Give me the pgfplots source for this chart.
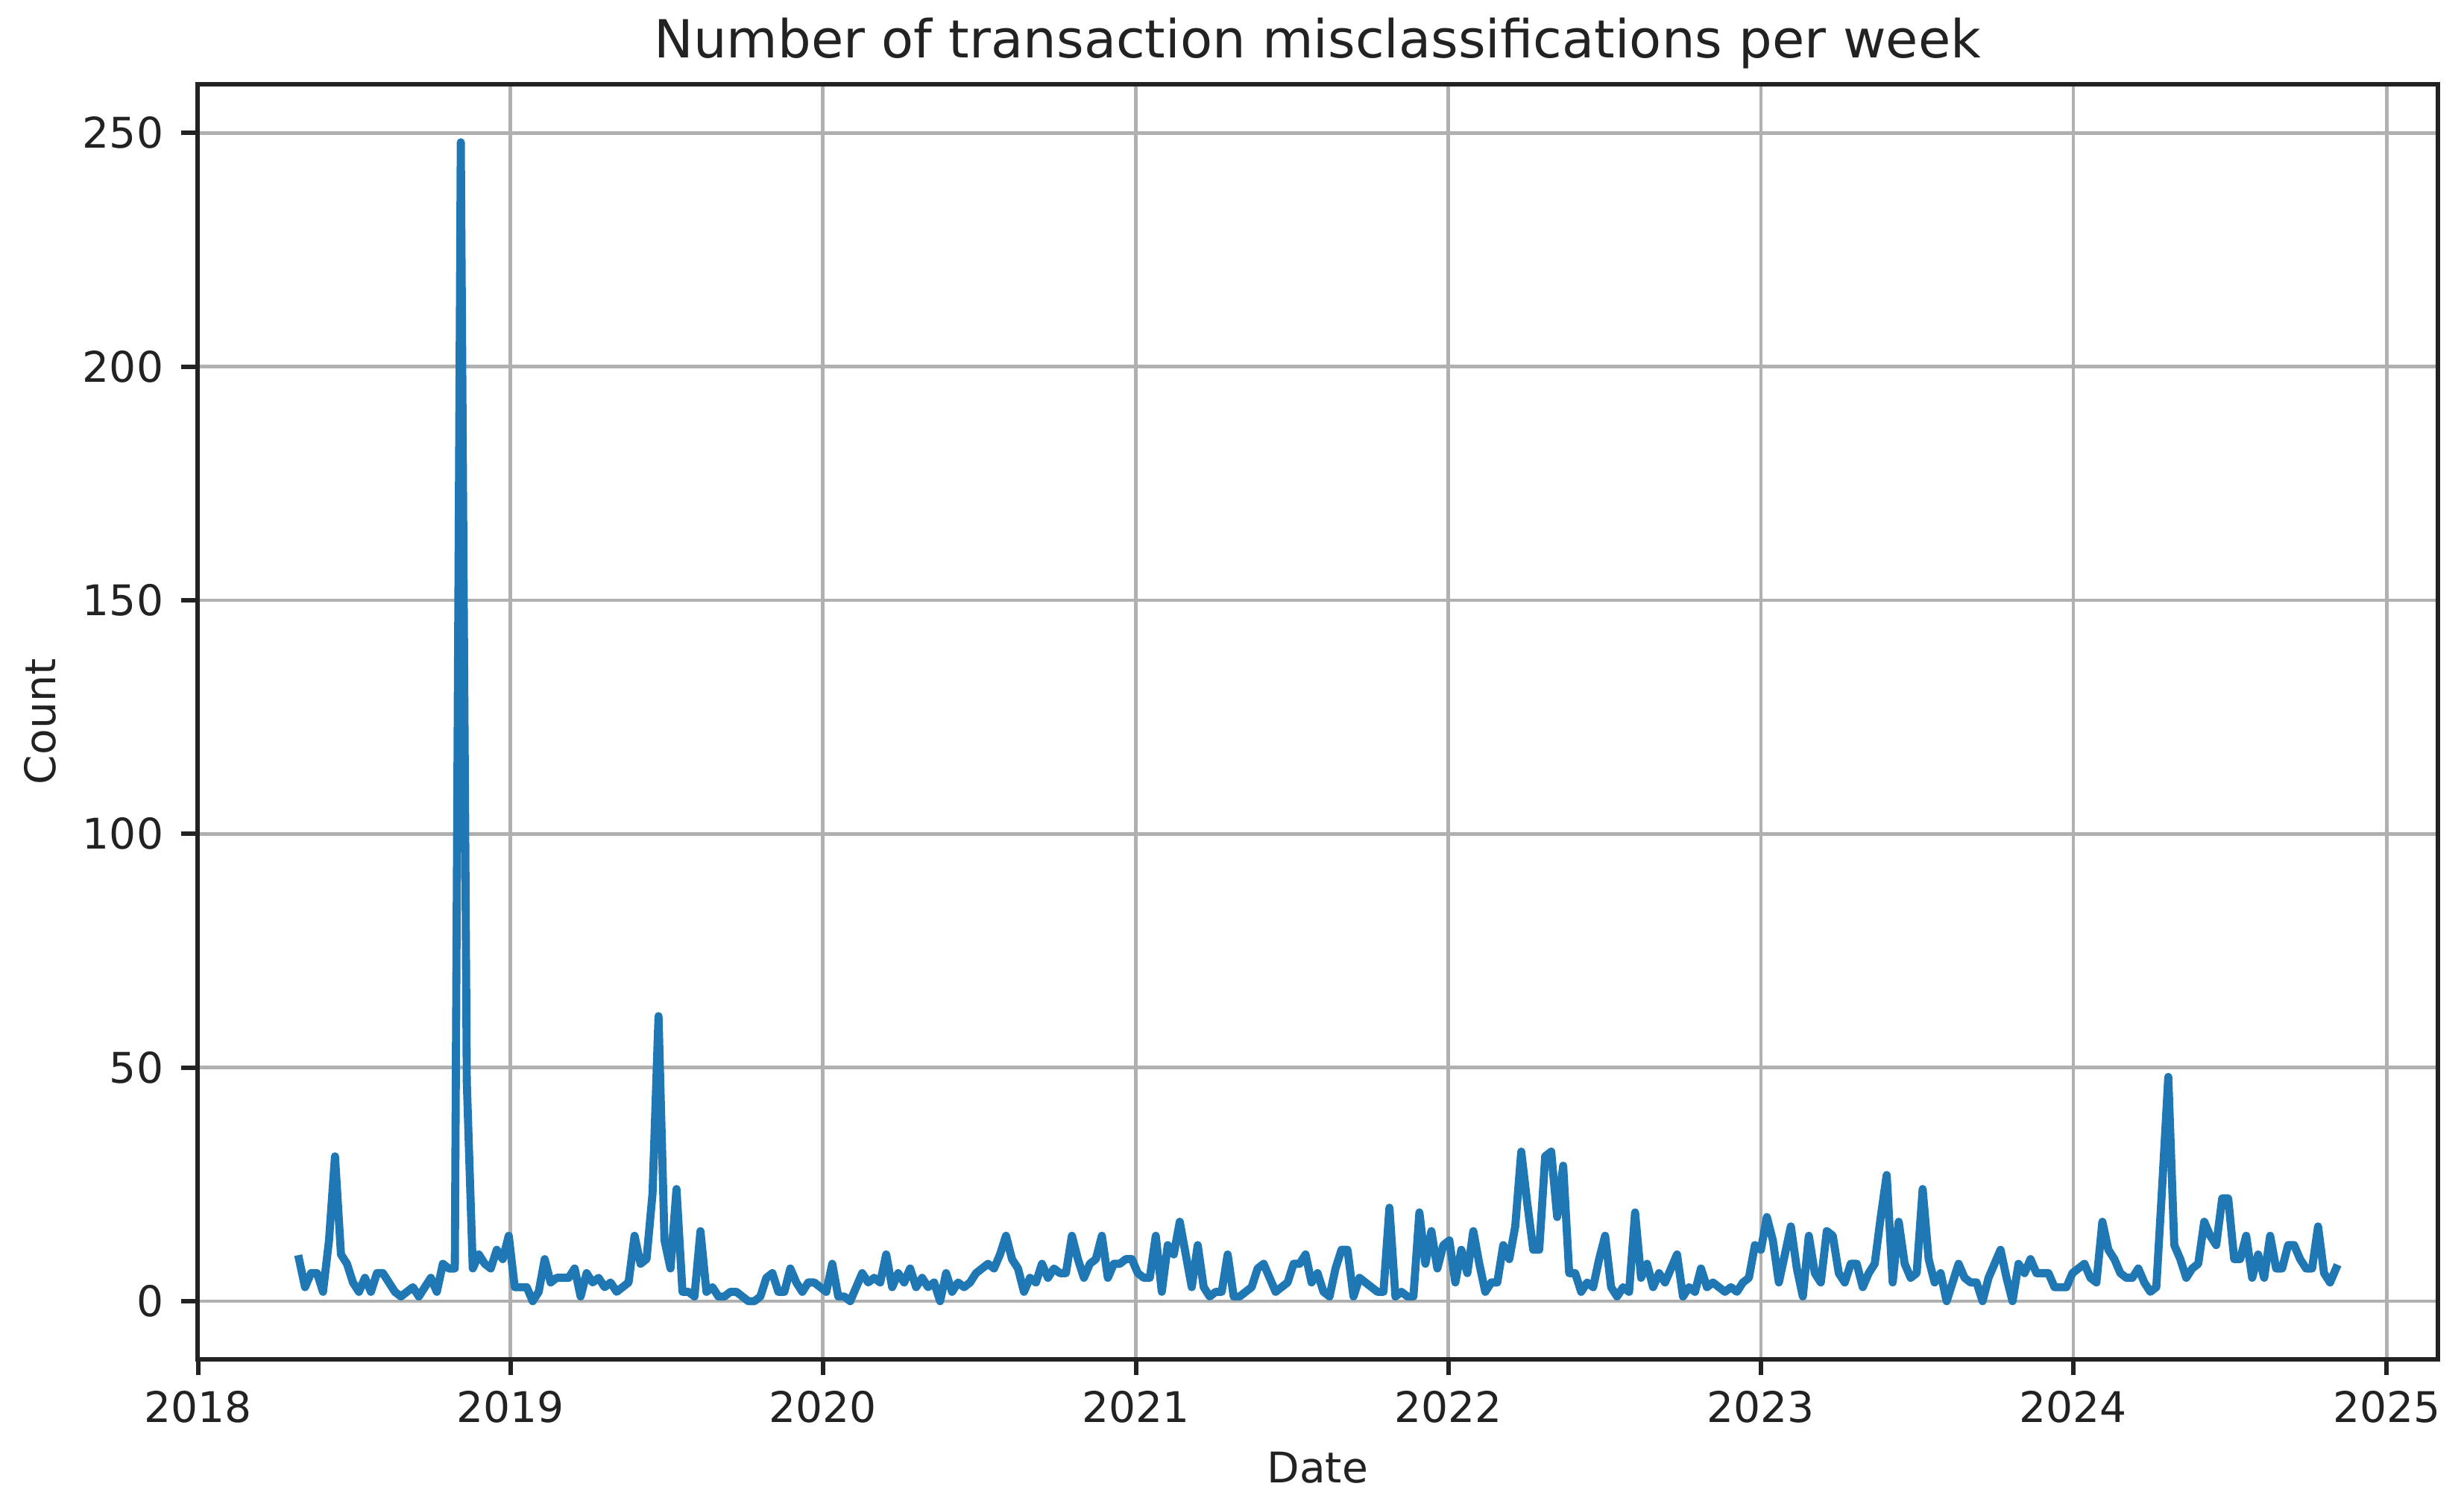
\documentclass[border=0pt]{standalone}
\usepackage{fontspec}
\setmainfont{DejaVu Sans}
\usepackage{pgfplots}
\pgfplotsset{compat=1.18}
\definecolor{mplblue}{HTML}{1F77B4}
\definecolor{gridgray}{HTML}{B0B0B0}
\definecolor{ink}{HTML}{222222}
\begin{document}
\begin{tikzpicture}[x=1bp,y=1bp]
\useasboundingbox (0,0) rectangle (793.2,485.04);
\begin{axis}[
  at={(63.48bp,47.59bp)}, anchor=south west,
  scale only axis, width=721.3bp, height=410.3bp,
  xmin=-17, xmax=357, ymin=-12.4, ymax=260.4,
  xtick={-16.857,35.286,87.429,139.714,191.857,244,296.143,348.429},
  xticklabels={2018,2019,2020,2021,2022,2023,2024,2025},
  ytick={0,50,100,150,200,250},
  /pgf/number format/assume math mode=true,
  xtick pos=bottom, ytick pos=left,
  tick align=outside,
  major tick length=5.2bp,
  tick style={line width=1.44bp, color=ink},
  axis line style={line width=1.44bp, color=ink},
  grid=major,
  major grid style={line width=1.15bp, color=gridgray},
  xticklabel style={font=\fontsize{13.6bp}{16bp}\selectfont, text=ink, inner sep=0pt, anchor=north, yshift=-4.95bp},
  yticklabel style={font=\fontsize{13.6bp}{16bp}\selectfont, text=ink, inner sep=0pt, anchor=east, xshift=-5.5bp},
  xlabel={Date}, ylabel={Count},
  xlabel style={font=\fontsize{13.6bp}{16bp}\selectfont, text=ink, at={(axis description cs:0.5,-0.0967)}, anchor=base, inner sep=0pt},
  ylabel style={font=\fontsize{13.6bp}{16bp}\selectfont, text=ink, at={(axis description cs:-0.0631,0.5)}, anchor=base, rotate=0, inner sep=0pt},
  every axis title shift=0pt,
  title={Number of transaction misclassifications per week},
  title style={font=\fontsize{16.9bp}{20bp}\selectfont, text=ink, at={(axis description cs:0.5,1.0208)}, anchor=base, inner sep=0pt},
]
\addplot[mplblue, line width=2.6bp, line join=round, line cap=rect, mark=none]
  table[x expr=\coordindex, y=y, row sep=\\] {
y\\
9\\3\\6\\6\\2\\13\\31\\10\\8\\4\\
2\\5\\2\\6\\6\\4\\2\\1\\2\\3\\
1\\3\\5\\2\\8\\7\\7\\248\\47\\7\\
10\\8\\7\\11\\9\\14\\3\\3\\3\\0\\
2\\9\\4\\5\\5\\5\\7\\1\\6\\4\\
5\\3\\4\\2\\3\\4\\14\\8\\9\\23\\
61\\13\\7\\24\\2\\2\\1\\15\\2\\3\\
1\\1\\2\\2\\1\\0\\0\\1\\5\\6\\
2\\2\\7\\4\\2\\4\\4\\3\\2\\8\\
1\\1\\0\\3\\6\\4\\5\\4\\10\\3\\
6\\4\\7\\3\\5\\3\\4\\0\\6\\2\\
4\\3\\4\\6\\7\\8\\7\\10\\14\\9\\
7\\2\\5\\4\\8\\5\\7\\6\\6\\14\\
9\\5\\8\\9\\14\\5\\8\\8\\9\\9\\
6\\5\\5\\14\\2\\12\\10\\17\\10\\3\\
12\\3\\1\\2\\2\\10\\1\\1\\2\\3\\
7\\8\\5\\2\\3\\4\\8\\8\\10\\4\\
6\\2\\1\\7\\11\\11\\1\\5\\4\\3\\
2\\2\\20\\1\\2\\1\\1\\19\\8\\15\\
7\\12\\13\\4\\11\\6\\15\\8\\2\\4\\
4\\12\\9\\16\\32\\21\\11\\11\\31\\32\\
18\\29\\6\\6\\2\\4\\3\\9\\14\\3\\
1\\3\\2\\19\\5\\8\\3\\6\\4\\7\\
10\\1\\3\\2\\7\\3\\4\\3\\2\\3\\
2\\4\\5\\12\\11\\18\\13\\4\\10\\16\\
7\\1\\14\\6\\4\\15\\14\\6\\4\\8\\
8\\3\\6\\8\\18\\27\\4\\17\\8\\5\\
6\\24\\9\\4\\6\\0\\4\\8\\5\\4\\
4\\0\\5\\8\\11\\5\\0\\8\\6\\9\\
6\\6\\6\\3\\3\\3\\6\\7\\8\\5\\
4\\17\\11\\9\\6\\5\\5\\7\\4\\2\\
3\\25\\48\\12\\9\\5\\7\\8\\17\\14\\
12\\22\\22\\9\\9\\14\\5\\10\\5\\14\\
7\\7\\12\\12\\9\\7\\7\\16\\6\\4\\7\\
};
\end{axis}
\end{tikzpicture}
\end{document}
